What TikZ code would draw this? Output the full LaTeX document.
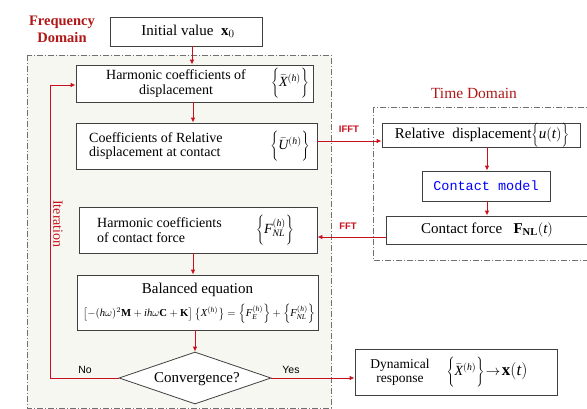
\documentclass[tikz,border=0pt]{standalone}
\usepackage{fontspec}
\setmainfont{Liberation Serif}
\setsansfont{Liberation Sans}
\setmonofont{Liberation Mono}
\usetikzlibrary{shapes.geometric,arrows.meta}
\definecolor{arrred}{HTML}{C8101E}
\definecolor{darkred}{HTML}{B01818}
\definecolor{boxgray}{HTML}{404040}
\definecolor{freqfill}{HTML}{F6F7F1}
\definecolor{dashgray}{HTML}{707070}
\newcommand{\tallbr}[2]{\left\{\rule[-#1]{0pt}{#2}}
\newcommand{\vi}[1]{\mathit{#1}}
\begin{document}
\begin{tikzpicture}[x=1pt,y=-1pt,
  box/.style={draw=boxgray,line width=0.8pt,fill=white,inner sep=0pt,rectangle},
  arr/.style={draw=arrred,line width=0.9pt,-{Latex[length=5pt,width=4.5pt]}},
  domainbox/.style={draw=dashgray,line width=0.7pt,dash pattern=on 6pt off 2pt on 1pt off 2pt},
  lbl/.style={font=\sffamily\fontsize{10.5}{12}\selectfont,inner sep=1pt},
  fftlbl/.style={text=arrred,font=\sffamily\bfseries\fontsize{9.5}{11}\selectfont,inner sep=1pt},
  txt/.style={font=\fontsize{14}{14.5}\selectfont,inner sep=0pt},
  bigtxt/.style={font=\fontsize{15}{16}\selectfont,inner sep=0pt},
  ttl/.style={text=darkred,inner sep=0pt}]
\useasboundingbox (0,0) rectangle (587,409);
\clip (0,0) rectangle (587,409);
% domains
\draw[domainbox,fill=freqfill] (27,55) rectangle (331,408);
\draw[domainbox] (373,107) rectangle (595,260);
\node[ttl,font=\bfseries\fontsize{14.5}{17}\selectfont,align=center] (fd) at (62,29) {Frequency\\Domain};
\node[ttl,font=\fontsize{15.5}{17}\selectfont] (td) at (474,93) {Time Domain};
% boxes
\node[box,minimum width=152,minimum height=29] (init) at (186,31.5) {};
\node[bigtxt] at (188,31.5) {Initial value \ $\mathbf{x}_0$};
\node[box,minimum width=237,minimum height=37] (harm) at (194.5,83.5) {};
\node[txt,align=center] at (176,83.5) {Harmonic coefficients of\\displacement};
\node[txt] at (290,83.5) {$\tallbr{13pt}{31pt}\bar{\vi{X}}^{(\vi{h})}\right\}$};
\node[box,minimum width=241,minimum height=46] (relU) at (196.5,146) {};
\node[txt,align=left,anchor=west] at (89,146) {Coefficients of Relative\\displacement at contact};
\node[txt] at (290,146) {$\tallbr{12pt}{30pt}\bar{\vi{U}}^{(\vi{h})}\right\}$};
\node[box,minimum width=238,minimum height=46] (fnl) at (198,230) {};
\node[txt,align=left,anchor=west] at (97,230) {Harmonic coefficients\\of contact force};
\node[txt] at (275,230) {$\tallbr{11pt}{28pt}\vi{F}_{\vi{NL}}^{(\vi{h})}\right\}$};
\node[box,minimum width=241,minimum height=55] (bal) at (197.5,302.5) {};
\node[bigtxt] at (197.5,290) {Balanced equation};
\node[inner sep=0pt] at (199,314) {\resizebox{232pt}{!}{$\left[-(\vi{h}\omega)^2\mathbf{M}+\vi{ih}\omega\mathbf{C}+\mathbf{K}\right]\left\{\vi{X}^{(\vi{h})}\right\}=\left\{\vi{F}_{\vi{E}}^{(\vi{h})}\right\}+\left\{\vi{F}_{\vi{NL}}^{(\vi{h})}\right\}$}};
\node[draw=boxgray,line width=0.8pt,fill=white,diamond,aspect=2.9,minimum width=152,minimum height=52,inner sep=0pt] (conv) at (195,378) {};
\node[bigtxt] at (197,379) {Convergence?};
\node[box,minimum width=202,minimum height=46] (dyn) at (456,372) {};
\node[font=\fontsize{13.5}{14}\selectfont,inner sep=0pt,align=center] at (400,372) {Dynamical\\response};
\node[txt] at (487,372) {$\tallbr{10pt}{27pt}\bar{\vi{X}}^{(\vi{h})}\right\}\!\rightarrow\!\mbox{\fontsize{17}{18}\selectfont$\mathbf{x}(\vi{t})$}$};
\node[box,minimum width=198,minimum height=24] (reld) at (481,135) {};
\node[bigtxt] at (482,135) {Relative \ displacement$\tallbr{7pt}{20pt}\vi{u}(\vi{t})\right\}$};
\node[box,minimum width=128,minimum height=30] (cm) at (486,186) {};
\node[font=\ttfamily\fontsize{13.5}{14}\selectfont,text=blue,inner sep=0pt] at (cm) {Contact model};
\node[box,minimum width=206,minimum height=28] (cf) at (489,230) {};
\node[bigtxt] at (487,230) {Contact force \ \ $\mathbf{F}_{\mathbf{NL}}(\vi{t})$};
% connectors
\draw[arr] (init.south -| 192,0) -- (harm.north -| 192,0);
\draw[arr] (harm.south -| 193,0) -- (relU.north -| 193,0);
\draw[arr] (relU.east |- 0,141) -- (reld.west |- 0,141);
\draw[arr] (reld.south -| 487,0) -- (cm.north -| 487,0);
\draw[arr] (cm.south -| 487,0) -- (cf.north -| 487,0);
\draw[arr] (cf.west |- 0,237) -- (fnl.east |- 0,237);
\draw[arr] (fnl.south -| 193,0) -- (bal.north -| 193,0);
\draw[arr] (bal.south -| 195,0) -- (conv.north);
\draw[arr] (conv.east) -- (dyn.west |- conv.east);
\coordinate (lb) at (50,378);
\coordinate (lt) at (50,85);
\draw[arr] (conv.west) -- (lb) -- (lt) -- (harm.west |- lt);
% labels
\node[fftlbl] at (349,129) {IFFT};
\node[fftlbl] at (348,226) {FFT};
\node[lbl] at (85,370) {No};
\node[lbl] at (291,370) {Yes};
\node[text=arrred,rotate=-90,font=\fontsize{14}{15}\selectfont,inner sep=0pt] at (58,224) {Iteration};
\end{tikzpicture}
\end{document}
